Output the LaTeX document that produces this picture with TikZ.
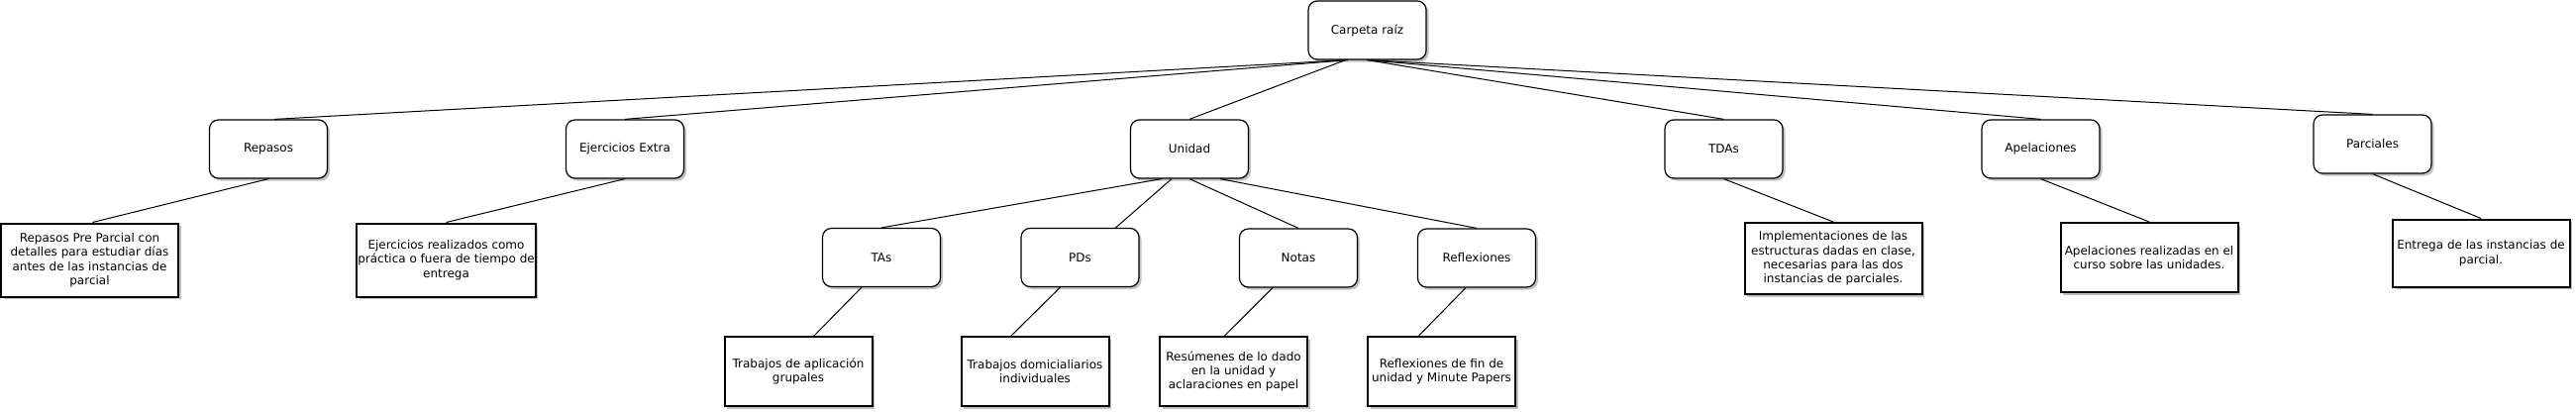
\documentclass[tikz,border=0pt]{standalone}
\usepackage{fontspec}
\setmainfont{DejaVu Sans}
\usetikzlibrary{shadows}

\tikzset{
	sombra/.style={drop shadow={shadow xshift=2.5pt,shadow yshift=-2.5pt,fill=black!35,opacity=0.7}},
	carpeta/.style={draw, rounded corners=9pt, line width=1.2pt, fill=white, sombra,
		minimum width=119pt, minimum height=59pt, align=center},
	detalle/.style={draw, line width=2pt, fill=white, sombra, inner xsep=1pt,
		minimum width=#1, minimum height=70pt, align=center},
	detalle/.default=179pt,
	rama/.style={line width=1pt}
}

\begin{document}
\begin{tikzpicture}[x=1pt,y=-1pt,font=\fontsize{12}{14.4}\selectfont]
		\useasboundingbox (0,0) rectangle (2601,415);
		% Carpetas
		\node[carpeta] (raiz) at (1380.5,30.5) {Carpeta raíz};
		\node[carpeta] (repasos) at (271,150.5) {Repasos};
		\node[carpeta] (ejercicios) at (631,150.5) {Ejercicios Extra};
		\node[carpeta] (unidad) at (1201,150.5) {Unidad};
		\node[carpeta] (tdas) at (1740.5,150.5) {TDAs};
		\node[carpeta] (apelaciones) at (2060.5,150.5) {Apelaciones};
		\node[carpeta] (parciales) at (2395.5,145.5) {Parciales};
		\node[carpeta] (tas) at (890,260) {TAs};
		\node[carpeta] (pds) at (1090.5,260) {PDs};
		\node[carpeta] (notas) at (1311,260.5) {Notas};
		\node[carpeta] (reflexiones) at (1491,260.5) {Reflexiones};
		% Descripciones
		\node[detalle, minimum height=74pt] (repasosDet) at (90.5,262.5) {Repasos Pre Parcial con\\detalles para estudiar días\\antes de las instancias de\\parcial};
		\node[detalle, minimum height=74pt] (ejerciciosDet) at (450.5,262.5) {Ejercicios realizados como\\práctica o fuera de tiempo de\\entrega};
		\node[detalle, minimum height=72pt] (tdasDet) at (1851,261) {Implementaciones de las\\estructuras dadas en clase,\\necesarias para las dos\\instancias de parciales.};
		\node[detalle] (apelacionesDet) at (2170,260) {Apelaciones realizadas en el\\curso sobre las unidades.};
		\node[detalle, minimum height=68pt] (parcialesDet) at (2505,255.5) {Entrega de las instancias de\\parcial.};
		\node[detalle=149pt] (tasDet) at (806,375) {Trabajos de aplicación\\grupales};
		\node[detalle=149pt] (pdsDet) at (1045,375) {Trabajos domicialiarios\\individuales};
		\node[detalle=149pt] (notasDet) at (1245.5,375) {Resúmenes de lo dado\\en la unidad y\\aclaraciones en papel};
		\node[detalle=149pt] (reflexionesDet) at (1455.5,375) {Reflexiones de fin de\\unidad y Minute Papers};
		% Ramas desde la carpeta raiz
		\draw[rama] ([xshift=-20pt]raiz.south) -- ([xshift=6pt]repasos.north);
		\draw[rama] ([xshift=-20pt]raiz.south) -- (ejercicios.north);
		\draw[rama] ([xshift=-22pt]raiz.south) -- (unidad.north);
		\draw[rama] (raiz.south) -- (tdas.north);
		\draw[rama] (raiz.south) -- (apelaciones.north);
		\draw[rama] (raiz.south) -- (parciales.north);
		% Ramas de la unidad
		\draw[rama] ([xshift=-28pt]unidad.south) -- (tas.north);
		\draw[rama] ([xshift=-18pt]unidad.south) -- ([xshift=36pt]pds.north);
		\draw[rama] (unidad.south) -- (notas.north);
		\draw[rama] ([xshift=31pt]unidad.south) -- (reflexiones.north);
		% Ramas a las descripciones
		\draw[rama] (repasos.south) -- ([xshift=3pt]repasosDet.north);
		\draw[rama] (ejercicios.south) -- (ejerciciosDet.north);
		\draw[rama] (tdas.south) -- (tdasDet.north);
		\draw[rama] (apelaciones.south) -- (apelacionesDet.north);
		\draw[rama] (parciales.south) -- (parcialesDet.north);
		\draw[rama] ([xshift=-20pt]tas.south) -- ([xshift=16pt]tasDet.north);
		\draw[rama] ([xshift=-20pt]pds.south) -- ([xshift=-24pt]pdsDet.north);
		\draw[rama] ([xshift=-26pt]notas.south) -- ([xshift=-9pt]notasDet.north);
		\draw[rama] ([xshift=-11pt]reflexiones.south) -- ([xshift=-23pt]reflexionesDet.north);
	\end{tikzpicture}
\end{document}
